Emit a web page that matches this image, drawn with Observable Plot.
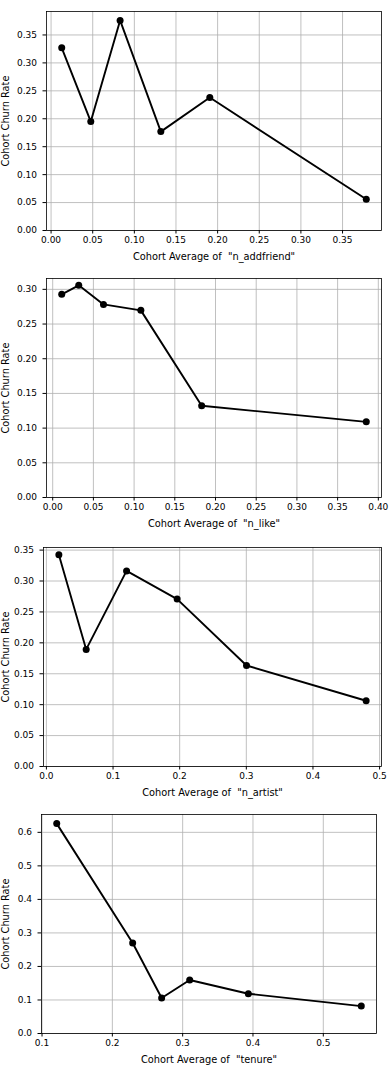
<!DOCTYPE html>
<html><head><meta charset="utf-8">
<script src="https://cdn.jsdelivr.net/npm/d3@7"></script>
<script src="https://cdn.jsdelivr.net/npm/@observablehq/plot@0.6"></script>
<style>
html,body{margin:0;padding:0;background:#fff;}
#charts{width:391px;}
#charts svg{display:block;}
#charts svg text{white-space:pre;}
</style></head><body><div id="charts"></div>
<script>
// ---- data ----
const yLabel = "Cohort Churn Rate";
const xLabels = ['Cohort Average of  "n_addfriend"', 'Cohort Average of  "n_like"', 'Cohort Average of  "n_artist"', 'Cohort Average of  "tenure"'];

const addfriendAvg = [0.0128, 0.0477, 0.0829, 0.1318, 0.1906, 0.3785];
const addfriendChurn = [0.327, 0.195, 0.376, 0.177, 0.238, 0.056];
const likeAvg = [0.0111, 0.0320, 0.0624, 0.1083, 0.1830, 0.3852];
const likeChurn = [0.2928, 0.3058, 0.2783, 0.2697, 0.1322, 0.1090];
const artistAvg = [0.0187, 0.0597, 0.1203, 0.1962, 0.3003, 0.4798];
const artistChurn = [0.3424, 0.1894, 0.3163, 0.2708, 0.1633, 0.1063];
const tenureAvg = [0.1209, 0.2289, 0.2701, 0.3100, 0.3934, 0.5540];
const tenureChurn = [0.626, 0.270, 0.1057, 0.1595, 0.1186, 0.0818];

const xTicks1 = [0, 0.05, 0.10, 0.15, 0.20, 0.25, 0.30, 0.35];
const yTicks1 = [0, 0.05, 0.10, 0.15, 0.20, 0.25, 0.30, 0.35];
const xTicks2 = [0, 0.05, 0.10, 0.15, 0.20, 0.25, 0.30, 0.35, 0.40];
const yTicks2 = [0, 0.05, 0.10, 0.15, 0.20, 0.25, 0.30];
const xTicks3 = [0, 0.1, 0.2, 0.3, 0.4, 0.5];
const yTicks3 = [0, 0.05, 0.10, 0.15, 0.20, 0.25, 0.30, 0.35];
const xTicks4 = [0.1, 0.2, 0.3, 0.4, 0.5];
const yTicks4 = [0, 0.1, 0.2, 0.3, 0.4, 0.5, 0.6];

// ---- layout ----
const panels = [
  {xs: addfriendAvg, ys: addfriendChurn, xt: xTicks1, yt: yTicks1, xl: xLabels[0], xf: ".2f", yf: ".2f",
   height: 270, mt: 11, mb: 40, ml: 46, mr: 10},
  {xs: likeAvg, ys: likeChurn, xt: xTicks2, yt: yTicks2, xl: xLabels[1], xf: ".2f", yf: ".2f",
   height: 270, mt: 8, mb: 43, ml: 46, mr: 10},
  {xs: artistAvg, ys: artistChurn, xt: xTicks3, yt: yTicks3, xl: xLabels[2], xf: ".1f", yf: ".2f",
   height: 265, mt: 7, mb: 39, ml: 43, mr: 10},
  {xs: tenureAvg, ys: tenureChurn, xt: xTicks4, yt: yTicks4, xl: xLabels[3], xf: ".1f", yf: ".1f",
   height: 265, mt: 9, mb: 37, ml: 41, mr: 15}
];

const container = document.getElementById("charts");
for (const p of panels) {
  const data = p.xs.map((x, i) => ({x, y: p.ys[i]}));
  const [x0, x1] = d3.extent(p.xs);
  const [y0, y1] = d3.extent(p.ys);
  const xd = [x0 - 0.05 * (x1 - x0), x1 + 0.05 * (x1 - x0)];
  const yd = [0, y1 + 0.05 * (y1 - y0)];
  const chart = Plot.plot({
    width: 391,
    height: p.height,
    marginTop: p.mt, marginBottom: p.mb, marginLeft: p.ml, marginRight: p.mr,
    style: {fontFamily: "'DejaVu Sans', sans-serif", fontSize: "9.5px", color: "#000", background: "#fff"},
    x: {domain: xd},
    y: {domain: yd},
    marks: [
      Plot.gridX(p.xt, {stroke: "#b0b0b0", strokeOpacity: 1, strokeWidth: 0.8}),
      Plot.gridY(p.yt, {stroke: "#b0b0b0", strokeOpacity: 1, strokeWidth: 0.8}),
      Plot.frame({stroke: "#000", strokeWidth: 0.8}),
      Plot.axisX(p.xt, {tickSize: 3.5, tickPadding: 2.5, tickFormat: d3.format(p.xf), fontSize: 9,
        label: null}),
      Plot.axisX({ticks: [], tickSize: 0, label: p.xl, labelAnchor: "center", labelArrow: "none",
        labelOffset: 29, fontSize: 9.8}),
      Plot.axisY(p.yt, {tickSize: 3.5, tickPadding: 6, tickFormat: d3.format(p.yf), fontSize: 9,
        label: null}),
      Plot.axisY({ticks: [], tickSize: 0, label: yLabel, labelAnchor: "center", labelArrow: "none",
        labelOffset: p.ml - 1.5, fontSize: 9.8}),
      Plot.line(data, {x: "x", y: "y", stroke: "#000", strokeWidth: 1.9}),
      Plot.dot(data, {x: "x", y: "y", r: 3.5, fill: "#000", stroke: "none"})
    ]
  });
  container.appendChild(chart);
}
</script>
</body></html>
